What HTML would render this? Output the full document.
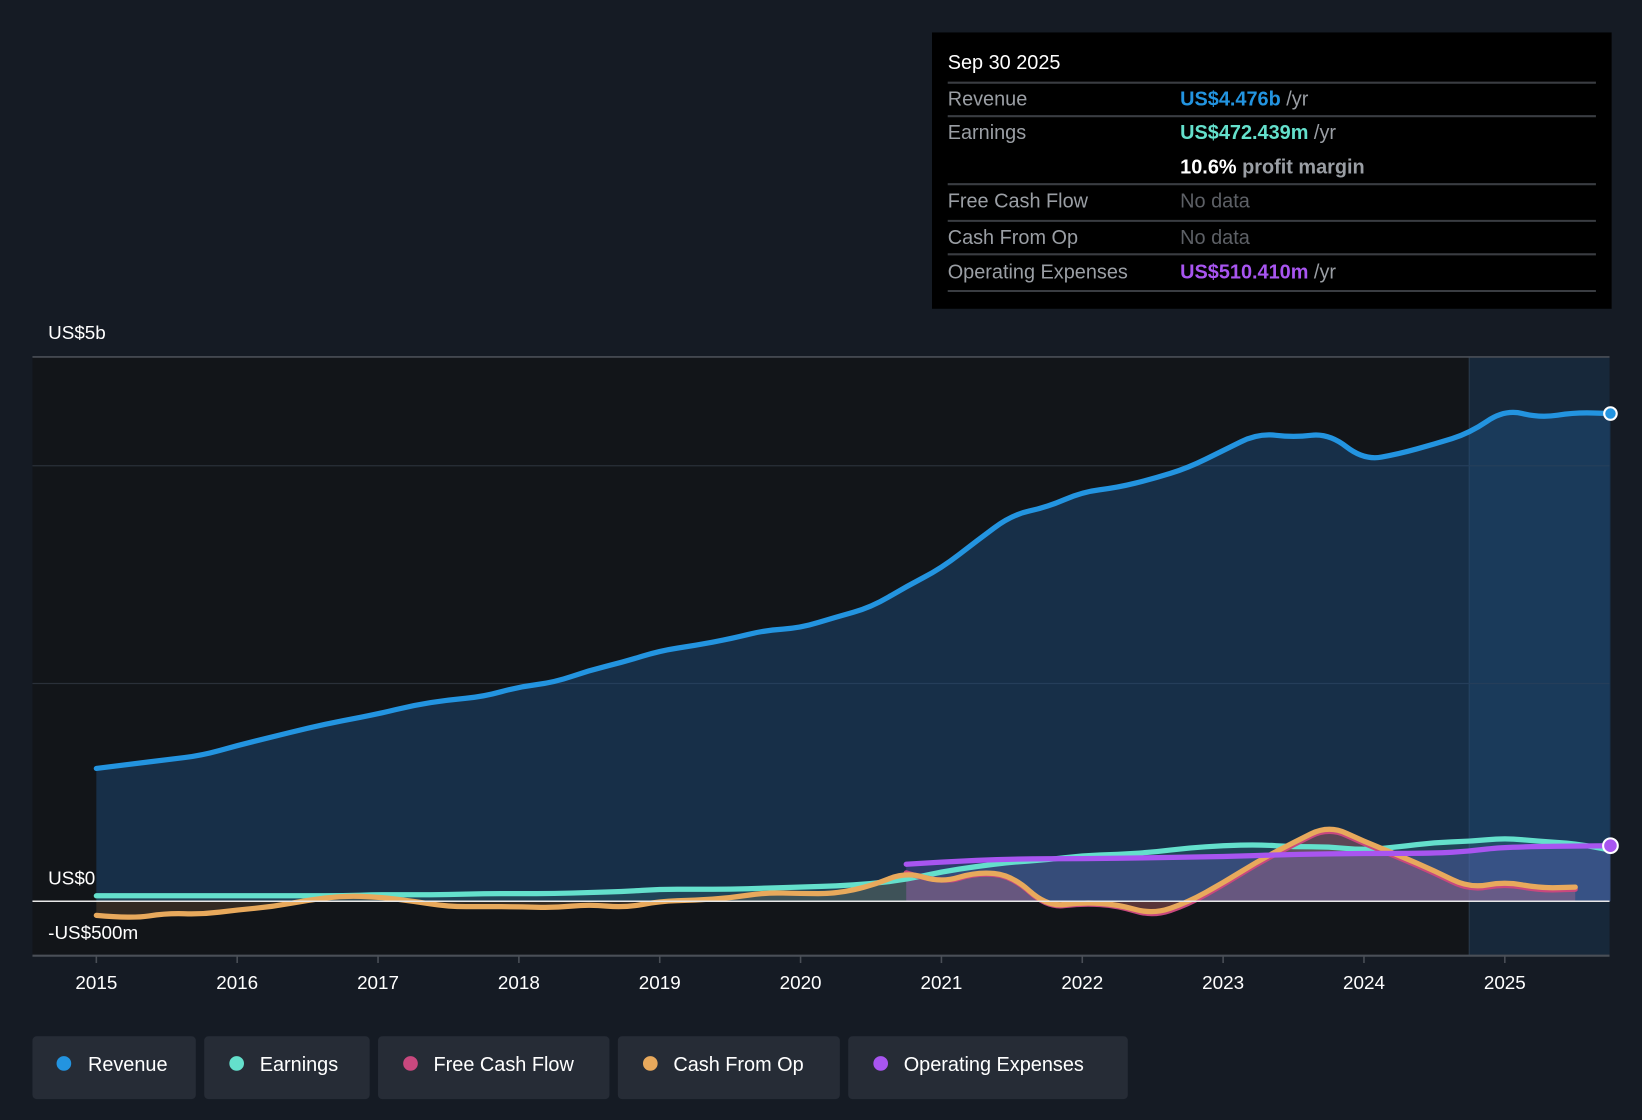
<!DOCTYPE html>
<html><head><meta charset="utf-8">
<style>
html,body{margin:0;padding:0;background:#151b24;}
svg{display:block;font-family:"Liberation Sans",sans-serif;}
</style></head>
<body>
<svg id="chart" width="1642" height="1120" viewBox="0 0 1568 1070" preserveAspectRatio="none" xmlns="http://www.w3.org/2000/svg">
<rect x="0" y="0" width="1568" height="1070" fill="#151b24"/>
<rect x="31" y="341" width="1372" height="572" fill="#121519"/>
<rect x="1403" y="341" width="134" height="572" fill="#17283a"/>
<line x1="1403" y1="341" x2="1403" y2="913" stroke="#2a3a4a" stroke-width="1"/>
<g id="grid"></g>
<g id="areas"></g>
<g id="lines"></g>
<g id="xaxis"></g>
<text x="46" y="324" fill="#fff" font-size="18">US$5b</text>
<text x="46" y="845" fill="#fff" font-size="18">US$0</text>
<text x="46" y="897" fill="#fff" font-size="18">-US$500m</text>

<g>
<rect x="890" y="31" width="649" height="264" fill="#000"/>
<text x="905" y="66" fill="#fff" font-size="19">Sep 30 2025</text>
<g stroke="#3a3d42" stroke-width="2">
<line x1="905" y1="79" x2="1524" y2="79"/><line x1="905" y1="111" x2="1524" y2="111"/>
<line x1="905" y1="176" x2="1524" y2="176"/><line x1="905" y1="211" x2="1524" y2="211"/>
<line x1="905" y1="243" x2="1524" y2="243"/><line x1="905" y1="278" x2="1524" y2="278"/>
</g>
<g font-size="19" fill="#9a9ea4">
<text x="905" y="101">Revenue</text><text x="905" y="133">Earnings</text>
<text x="905" y="198">Free Cash Flow</text><text x="905" y="233">Cash From Op</text>
<text x="905" y="266">Operating Expenses</text>
</g>
<g font-size="19">
<text x="1127" y="101"><tspan fill="#2394e0" font-weight="bold">US$4.476b</tspan><tspan fill="#9a9ea4"> /yr</tspan></text>
<text x="1127" y="133"><tspan fill="#64e0cc" font-weight="bold">US$472.439m</tspan><tspan fill="#9a9ea4"> /yr</tspan></text>
<text x="1127" y="166"><tspan fill="#fff" font-weight="bold">10.6%</tspan><tspan fill="#9a9ea4" font-weight="bold"> profit margin</tspan></text>
<text x="1127" y="198" fill="#5d6066">No data</text>
<text x="1127" y="233" fill="#5d6066">No data</text>
<text x="1127" y="266"><tspan fill="#a855f0" font-weight="bold">US$510.410m</tspan><tspan fill="#9a9ea4"> /yr</tspan></text>
</g>
</g>

<g font-size="19" fill="#fff">
<g><rect x="31" y="990" width="156" height="60" rx="4" fill="#262c36"/><circle cx="61" cy="1016" r="7" fill="#2394e0"/><text x="84" y="1023">Revenue</text></g>
<g><rect x="195" y="990" width="158" height="60" rx="4" fill="#262c36"/><circle cx="226" cy="1016" r="7" fill="#64e0cc"/><text x="248" y="1023">Earnings</text></g>
<g><rect x="361" y="990" width="221" height="60" rx="4" fill="#262c36"/><circle cx="392" cy="1016" r="7" fill="#c8487e"/><text x="414" y="1023">Free Cash Flow</text></g>
<g><rect x="590" y="990" width="212" height="60" rx="4" fill="#262c36"/><circle cx="621" cy="1016" r="7" fill="#e8a95c"/><text x="643" y="1023">Cash From Op</text></g>
<g><rect x="810" y="990" width="267" height="60" rx="4" fill="#262c36"/><circle cx="841" cy="1016" r="7" fill="#a855f0"/><text x="863" y="1023">Operating Expenses</text></g>
</g>
</svg>
<script>
const revYears = [2015,2015.25,2015.5,2015.75,2016,2016.25,2016.5,2016.75,2017,2017.25,2017.5,2017.75,2018,2018.25,2018.5,2018.75,2019,2019.25,2019.5,2019.75,2020,2020.25,2020.5,2020.75,2021,2021.25,2021.5,2021.75,2022,2022.25,2022.5,2022.75,2023,2023.25,2023.5,2023.75,2024,2024.25,2024.5,2024.75,2025,2025.25,2025.5,2025.75];
const revenue = [1.22,1.26,1.30,1.34,1.43,1.51,1.59,1.66,1.72,1.80,1.85,1.88,1.97,2.01,2.12,2.20,2.30,2.35,2.41,2.49,2.51,2.61,2.70,2.89,3.06,3.31,3.55,3.62,3.76,3.80,3.88,3.98,4.14,4.30,4.26,4.30,4.05,4.11,4.20,4.30,4.52,4.44,4.49,4.48];
const earnings = [0.05,0.05,0.05,0.05,0.05,0.05,0.05,0.05,0.06,0.06,0.06,0.07,0.07,0.07,0.08,0.09,0.11,0.11,0.11,0.12,0.13,0.14,0.16,0.20,0.27,0.32,0.36,0.38,0.42,0.43,0.45,0.49,0.51,0.52,0.50,0.50,0.47,0.50,0.54,0.55,0.58,0.55,0.53,0.47];
const cfoYears = revYears.slice(0,43);
const cashFromOp = [-0.13,-0.16,-0.11,-0.12,-0.08,-0.05,0.01,0.05,0.04,0.00,-0.05,-0.05,-0.05,-0.06,-0.03,-0.06,0.00,0.01,0.03,0.08,0.07,0.07,0.14,0.27,0.17,0.27,0.24,-0.05,-0.01,-0.03,-0.12,-0.01,0.17,0.37,0.54,0.70,0.55,0.42,0.28,0.12,0.18,0.12,0.13];
const fcfYears = [2020.75,2021,2021.25,2021.5,2021.75,2022,2022.25,2022.5,2022.75,2023,2023.25,2023.5,2023.75,2024,2024.25,2024.5,2024.75,2025,2025.25,2025.5];
const freeCashFlow = [0.26,0.16,0.26,0.23,-0.06,-0.02,-0.04,-0.14,-0.03,0.15,0.35,0.52,0.68,0.53,0.40,0.26,0.10,0.16,0.10,0.11];
const opexYears = [2020.75,2021,2021.5,2022,2022.5,2023,2023.5,2024,2024.5,2024.75,2025,2025.75];
const opex = [0.34,0.36,0.39,0.39,0.40,0.41,0.43,0.44,0.44,0.46,0.50,0.51];
const xTicks = [2015,2016,2017,2018,2019,2020,2021,2022,2023,2024,2025];
const gridVals = [5,4,2];

const NS='http://www.w3.org/2000/svg';
const X = y => 92 + (y-2015)*134.5;
const Y = v => 861 - v*104;
function mk(tag, attrs, parent){const e=document.createElementNS(NS,tag);for(const k in attrs)e.setAttribute(k,attrs[k]);parent.appendChild(e);return e;}
function pathD(xs, vs){
  const p = xs.map((x,i)=>[X(x),Y(vs[i])]);
  let d='M'+p[0][0]+','+p[0][1];
  for(let i=1;i<p.length-1;i++){const mx=(p[i][0]+p[i+1][0])/2,my=(p[i][1]+p[i+1][1])/2;d+=' Q'+p[i][0]+','+p[i][1]+' '+mx+','+my;}
  d+=' L'+p[p.length-1][0]+','+p[p.length-1][1];
  return d;
}
const grid=document.getElementById('grid'),areas=document.getElementById('areas'),lines=document.getElementById('lines'),xaxis=document.getElementById('xaxis');
gridVals.forEach(v=>{
  const l=mk('line',{x1:31,x2:1537,y1:Y(v),y2:Y(v),stroke:v===5?'#4a4f57':'#2a3039','stroke-width':v===5?1.5:1.2},grid);
  
  
});
function area(xs,vs,fill,name){
  const d=pathD(xs,vs)+' L'+X(xs[xs.length-1])+','+Y(0)+' L'+X(xs[0])+','+Y(0)+' Z';
  const a=mk('path',{d:d,fill:fill},areas);
  
  
}
area(revYears,revenue,'rgba(30,80,130,0.45)','revenue-area');
area(revYears,earnings,'rgba(100,224,204,0.12)','earnings-area');
area(fcfYears,freeCashFlow,'rgba(200,72,126,0.25)','fcf-area');
area(cfoYears,cashFromOp,'rgba(232,169,92,0.15)','cfo-area');
area(opexYears,opex,'rgba(120,100,220,0.25)','opex-area');
function line(xs,vs,color,name,w){
  const l=mk('path',{d:pathD(xs,vs),fill:'none',stroke:color,'stroke-width':w||5,'stroke-linejoin':'round','stroke-linecap':'round'},lines);
  
  
}
line(revYears,earnings,'#64e0cc','earnings-line');
line(fcfYears,freeCashFlow,'#c8487e','free-cash-flow-line');
line(cfoYears,cashFromOp,'#e8a95c','cash-from-op-line');
line(opexYears,opex,'#a855f0','operating-expenses-line');
line(revYears,revenue,'#2394e0','revenue-line');
const z=mk('line',{x1:31,x2:1537,y1:Y(0),y2:Y(0),stroke:'#e8e8e8','stroke-width':1.5},lines);


const d1=mk('circle',{cx:X(revYears[revYears.length-1]),cy:Y(revenue[revenue.length-1]),r:6,fill:'#2394e0',stroke:'#fff','stroke-width':2},lines);


const d2=mk('circle',{cx:X(opexYears[opexYears.length-1]),cy:Y(opex[opex.length-1]),r:7,fill:'#a855f0',stroke:'#fff','stroke-width':2},lines);


mk('line',{x1:31,x2:1537,y1:913,y2:913,stroke:'#4a4f57','stroke-width':2},xaxis);
xTicks.forEach(t=>{
  mk('line',{x1:X(t),x2:X(t),y1:913,y2:920,stroke:'#4a4f57','stroke-width':1.5},xaxis);
  const tx=mk('text',{x:X(t),y:945,fill:'#fff','font-size':18,'text-anchor':'middle'},xaxis);
  tx.textContent=t;
  
  
});
</script>
</body></html>
